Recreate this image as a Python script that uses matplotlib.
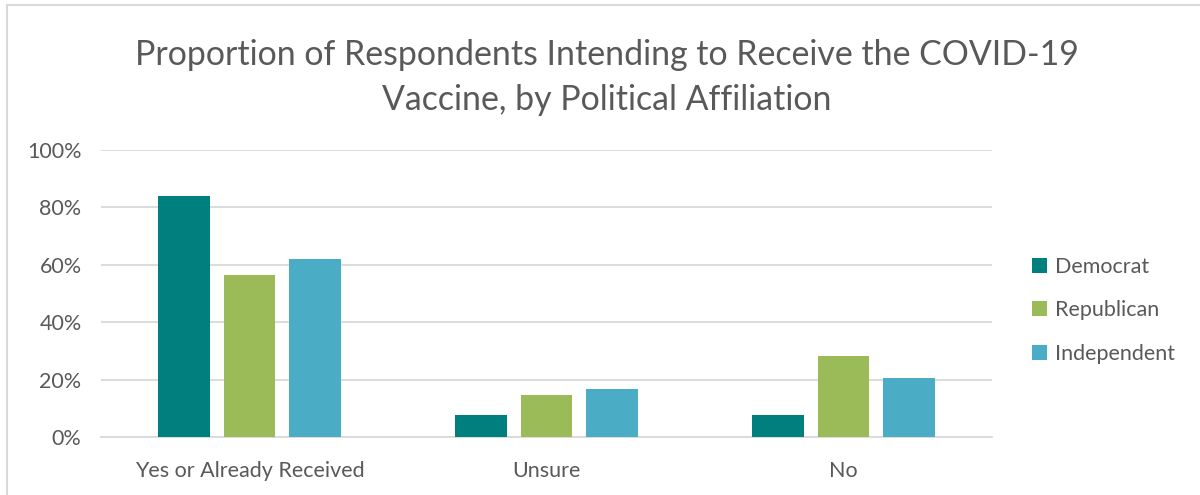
import matplotlib.pyplot as plt
import numpy as np
from matplotlib.lines import Line2D

plt.rcParams["font.family"] = ["Lato", "DejaVu Sans"]

# data
categories = ["Yes or Already Received", "Unsure", "No"]
parties = ["Democrat", "Republican", "Independent"]
democrat = [0.841, 0.077, 0.077]
republican = [0.564, 0.145, 0.282]
independent = [0.620, 0.166, 0.206]
yticks = [0.0, 0.2, 0.4, 0.6, 0.8, 1.0]

COLORS = ["#007F7F", "#9BBB59", "#4BACC6"]
TEXT = "#595959"
GRID = "#D9D9D9"

fig = plt.figure(figsize=(12, 4.95), dpi=100)
ax = fig.add_axes([101 / 1200, 1 - 437 / 495, (992 - 101) / 1200, (437 - 150) / 495])

x = np.arange(len(categories))
width = 0.175
step = 0.22
for i, (name, vals) in enumerate(zip(parties, [democrat, republican, independent])):
    ax.bar(x + (i - 1) * step, vals, width, color=COLORS[i], label=name, zorder=3)

ax.set_xlim(-0.5, len(categories) - 0.5)
ax.set_ylim(0, 1.0)
ax.set_yticks(yticks)
ax.set_yticklabels([f"{int(round(t * 100))}%" for t in yticks])
ax.set_xticks(x)
ax.set_xticklabels(categories)
ax.tick_params(axis="both", length=0, labelsize=15.5, colors=TEXT)
ax.tick_params(axis="y", pad=14)
ax.tick_params(axis="x", pad=17)
ax.grid(axis="y", color=GRID, linewidth=1.3, zorder=0)
for side in ["top", "right", "left"]:
    ax.spines[side].set_visible(False)
ax.spines["bottom"].set_color(GRID)
ax.spines["bottom"].set_linewidth(1.3)

fig.text(0.506, 0.843, "Proportion of Respondents Intending to Receive the COVID-19\nVaccine, by Political Affiliation",
         ha="center", va="center", fontsize=24.4, color=TEXT, linespacing=1.5)

leg = fig.legend(loc="upper left", bbox_to_anchor=(1023 / 1200, 1 - 248 / 495), frameon=False,
                 fontsize=15.5, handlelength=0.7, handleheight=0.7, handletextpad=0.4,
                 labelspacing=1.1, labelcolor=TEXT, borderaxespad=0)

# outer chart border (top and left visible in the reference)
fig.add_artist(Line2D([7 / 1200, 7 / 1200], [0, 1 - 5 / 495], color=GRID, linewidth=1.5))
fig.add_artist(Line2D([7 / 1200, 1], [1 - 5 / 495, 1 - 5 / 495], color=GRID, linewidth=1.5))

fig.savefig("out.png", dpi=100)
